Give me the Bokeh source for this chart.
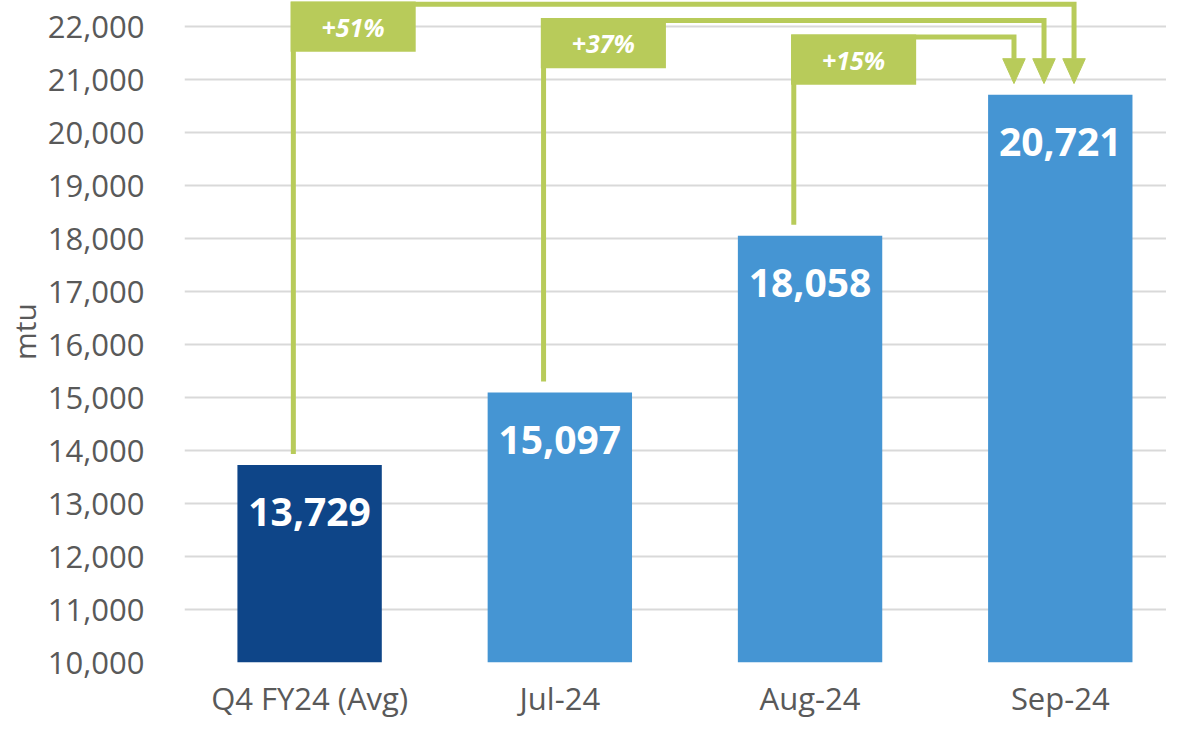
from bokeh.plotting import figure
from bokeh.models import Range1d, NumeralTickFormatter, FixedTicker, ColumnDataSource
from bokeh.core.properties import value
from bokeh.embed import file_html
from bokeh.resources import INLINE

# ---- data ----
categories = ["Q4 FY24 (Avg)", "Jul-24", "Aug-24", "Sep-24"]
values = [13729, 15097, 18058, 20721]
y_ticks = list(range(10000, 22001, 1000))

# ---- styles ----
FONT = "Open Sans"
DARK = "#0E4588"
LIGHT = "#4595D3"
GREEN = "#B8CB5A"
GREY_TXT = "#595959"

p = figure(width=1166, height=721, output_backend="svg", toolbar_location=None,
           x_range=Range1d(-0.5, 3.4245), y_range=Range1d(10000, 22500),
           min_border_left=179, min_border_top=0, min_border_right=0,
           min_border_bottom=58)
p.outline_line_color = None
p.background_fill_color = "white"
p.border_fill_color = "white"

# grid
p.xgrid.grid_line_color = None
p.ygrid.grid_line_color = "#D9D9D9"
p.ygrid.grid_line_width = 2

# y axis
p.yaxis.ticker = FixedTicker(ticks=y_ticks)
p.yaxis.formatter = NumeralTickFormatter(format="0,0")
p.yaxis.major_label_text_font = FONT
p.yaxis.major_label_text_font_size = "31px"
p.yaxis.major_label_text_color = GREY_TXT
p.yaxis.major_label_standoff = 40
p.yaxis.major_tick_out = 0
p.yaxis.major_tick_in = 0
p.yaxis.axis_line_color = None
p.yaxis.major_tick_line_color = None
p.yaxis.minor_tick_line_color = None
p.yaxis.axis_label = "mtu"
p.yaxis.axis_label_text_font = FONT
p.yaxis.axis_label_text_font_size = "30px"
p.yaxis.axis_label_text_font_style = "normal"
p.yaxis.axis_label_text_color = GREY_TXT
p.yaxis.axis_label_standoff = 0

# x axis
p.xaxis.ticker = FixedTicker(ticks=list(range(len(categories))))
p.xaxis.major_label_overrides = {i: c for i, c in enumerate(categories)}
p.xaxis.major_label_text_font = FONT
p.xaxis.major_label_text_font_size = "31px"
p.xaxis.major_label_text_color = GREY_TXT
p.xaxis.major_label_standoff = 14
p.xaxis.major_tick_out = 0
p.xaxis.major_tick_in = 0
p.xaxis.axis_line_color = None
p.xaxis.major_tick_line_color = None
p.xaxis.minor_tick_line_color = None

# bars
xs = list(range(len(categories)))
colors = [DARK] + [LIGHT] * (len(categories) - 1)
src = ColumnDataSource(dict(x=xs, top=values, color=colors,
                            label=[f"{v:,}" for v in values]))
p.vbar(x="x", top="top", bottom=10000, width=0.577, fill_color="color",
       line_color=None, source=src)
p.text(x="x", y="top", text="label", source=src, text_align="center",
       text_baseline="middle", y_offset=47, text_color="white",
       text_font=value(FONT), text_font_size="39px", text_font_style="bold")

# growth arrows to the last bar
last = len(values) - 1
LEVEL_TOP = 22430
LEVEL_STEP = 310
GAP = 210
HEAD_H = 470
HEAD_HW = 0.045
for i in range(last):
    pct = round((values[last] / values[i] - 1) * 100)
    level = LEVEL_TOP - i * LEVEL_STEP
    x0 = xs[i] - 0.065
    tip_x = xs[last] + 0.055 - 0.12 * i
    tip_y = values[last] + GAP
    p.line([x0, x0, tip_x, tip_x], [values[i] + GAP, level, level, tip_y + HEAD_H],
           line_color=GREEN, line_width=5, line_join="miter")
    p.patch([tip_x - HEAD_HW, tip_x + HEAD_HW, tip_x],
            [tip_y + HEAD_H, tip_y + HEAD_H, tip_y],
            fill_color=GREEN, line_color=GREEN, line_width=1)
    left = x0 - 0.011
    top = level + 50
    p.quad(left=left, right=left + 0.5, top=top, bottom=top - 950,
           fill_color=GREEN, line_color=None)
    p.text(x=[left + 0.25], y=[top - 475], text=[f"+{pct}%"], text_align="center",
           text_baseline="middle", text_color="white", text_font=value(FONT),
           text_font_size="25px", text_font_style="bold italic")

open("out.html", "w").write(file_html(p, INLINE))
